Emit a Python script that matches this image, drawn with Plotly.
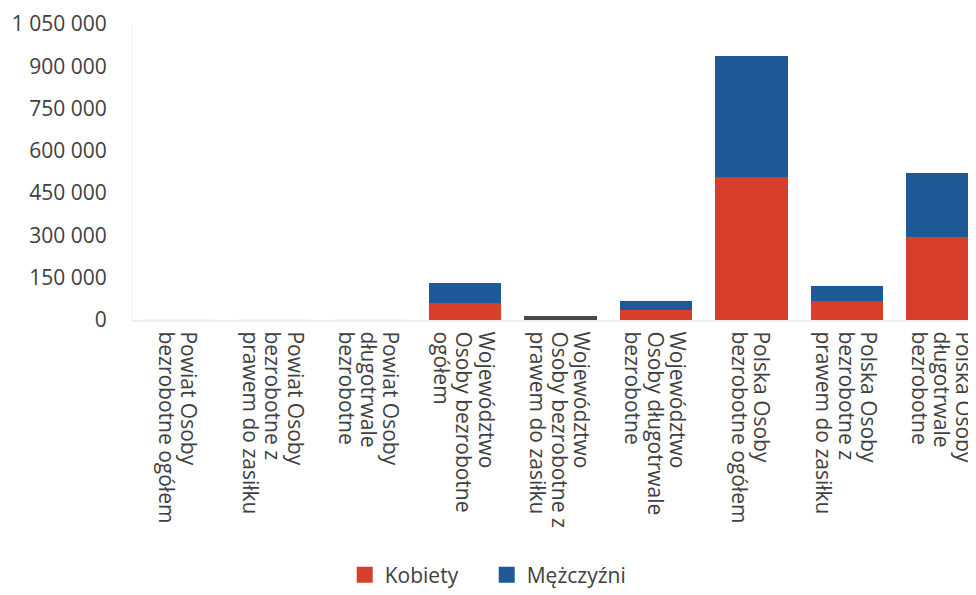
import plotly.graph_objects as go

categories = [
    "Powiat Osoby<br>bezrobotne ogółem",
    "Powiat Osoby<br>bezrobotne z<br>prawem do zasiłku",
    "Powiat Osoby<br>długotrwale<br>bezrobotne",
    "Województwo<br>Osoby bezrobotne<br>ogółem",
    "Województwo<br>Osoby bezrobotne z<br>prawem do zasiłku",
    "Województwo<br>Osoby długotrwale<br>bezrobotne",
    "Polska Osoby<br>bezrobotne ogółem",
    "Polska Osoby<br>bezrobotne z<br>prawem do zasiłku",
    "Polska Osoby<br>długotrwale<br>bezrobotne",
]
kobiety = [400, 80, 250, 60000, 7000, 36000, 507000, 66000, 295000]
mezczyzni = [350, 60, 200, 70000, 7000, 32000, 429000, 56000, 225000]
y_ticks = [0, 150000, 300000, 450000, 600000, 750000, 900000, 1050000]

RED = "rgba(216,63,43,0.999)"
BLUE = "rgba(29,90,151,0.999)"
GRAY = "rgba(74,74,74,0.999)"
red_colors = [GRAY if i == 4 else RED for i in range(len(categories))]
blue_colors = [GRAY if i == 4 else BLUE for i in range(len(categories))]

# larger glyphs with the tight line spacing seen in the reference
tick_text = ["<br>".join("<span style='font-size:21px'>%s</span>" % ln for ln in c.split("<br>"))
             for c in categories]

fig = go.Figure()
fig.add_trace(go.Bar(name="Kobiety", x=categories, y=kobiety, showlegend=False,
                     legendgroup="k",
                     marker=dict(color=red_colors, line=dict(width=0.02, color=red_colors)),
                     width=0.76))
fig.add_trace(go.Bar(name="Mężczyźni", x=categories, y=mezczyzni, showlegend=False,
                     legendgroup="m",
                     marker=dict(color=blue_colors, line=dict(width=0.02, color=blue_colors)),
                     width=0.76))
# legend entries with larger square swatches
fig.add_trace(go.Scatter(name="Kobiety", x=[None], y=[None], mode="markers", legendgroup="k",
                         marker=dict(symbol="square", size=18, color="#d83f2b")))
fig.add_trace(go.Scatter(name="Mężczyźni", x=[None], y=[None], mode="markers", legendgroup="m",
                         marker=dict(symbol="square", size=18, color="#1d5a97")))

fig.update_layout(
    barmode="stack",
    width=976, height=595,
    margin=dict(l=125, r=8, t=16, b=283),
    paper_bgcolor="white", plot_bgcolor="white",
    separators=", ",
    font=dict(family="Open Sans, sans-serif", size=17, color="#404040"),
    showlegend=True,
    legend=dict(orientation="h", xref="container", yref="container",
                x=0.345, xanchor="left", y=0.047, yanchor="middle",
                entrywidth=97, itemsizing="trace",
                font=dict(size=21, color="#404040"), traceorder="normal"),
    xaxis=dict(range=[-0.476, 8.35], tickangle=90, showgrid=False, automargin=False,
               tickvals=categories, ticktext=tick_text, ticklabelstandoff=6,
               ticklabelshift=-3,
               showline=True, linecolor="#eeeeee", linewidth=2,
               tickfont=dict(size=17, color="#404040"), ticks=""),
    yaxis=dict(range=[0, 1050000], tickvals=y_ticks, tickformat=",d", automargin=False,
               showgrid=False, zeroline=False, showline=True, linecolor="#f6f6f6",
               linewidth=2, ticklabelstandoff=20,
               tickfont=dict(size=21, color="#404040")),
)

fig.write_html("out.html")
